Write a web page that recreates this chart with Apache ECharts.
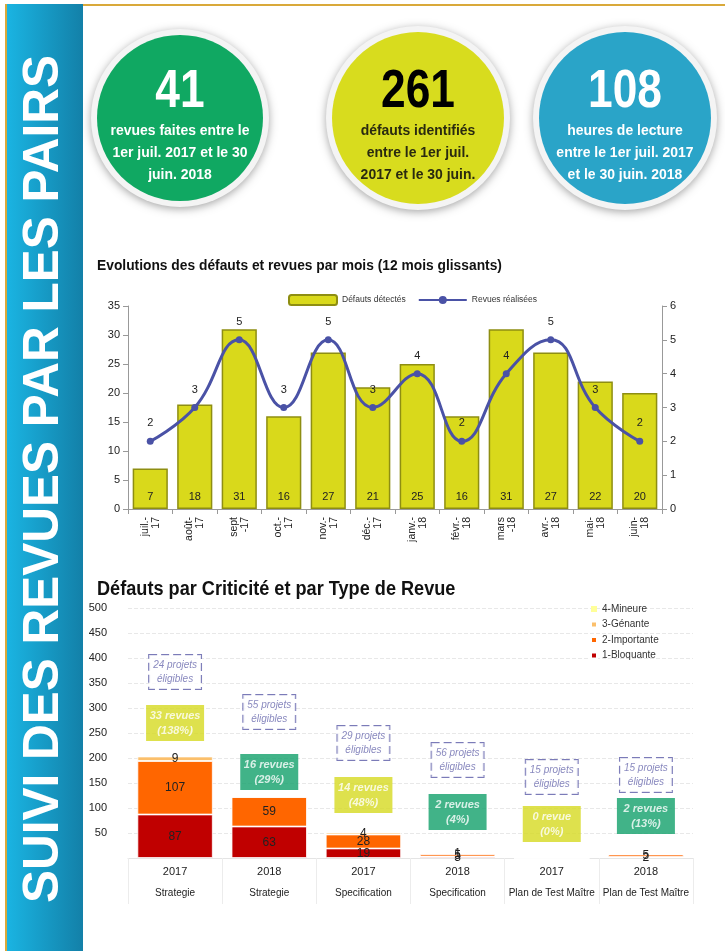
<!DOCTYPE html>
<html><head><meta charset="utf-8">
<script src="https://cdn.jsdelivr.net/npm/echarts@6/dist/echarts.min.js"></script>
<style>html,body{margin:0;padding:0;background:#fff}#c{width:725px;height:951px}</style>
</head><body><div id="c"></div>
<script>
// ---- Chart 1 data ----
const months = ['juil.-\n17','août-\n17','sept\n-17','oct.-\n17','nov.-\n17','déc.-\n17','janv.-\n18','févr.-\n18','mars\n-18','avr.-\n18','mai-\n18','juin-\n18'];
const defauts = [7,18,31,16,27,21,25,16,31,27,22,20];
const revues = [2,3,5,3,5,3,4,2,4,5,3,2];
// ---- Chart 2 data ----
const years = ['2017','2018','2017','2018','2017','2018'];
const types = ['Strategie','Strategie','Specification','Specification','Plan de Test Maître','Plan de Test Maître'];
const bloquante = [87,63,19,3,0,2];
const importante = [107,59,28,5,0,5];
const genante = [9,0,4,1,0,0];
const mineure = [0,0,0,0,0,0];
const projetsTxt = ['24 projets\néligibles','55 projets\néligibles','29 projets\néligibles','56 projets\néligibles','15 projets\néligibles','15 projets\néligibles'];
const projetsY = [372,292,230,196,162,166];
const revuesTxt = ['33 revues\n(138%)','16 revues\n(29%)','14 revues\n(48%)','2 revues\n(4%)','0 revue\n(0%)','2 revues\n(13%)'];
const revuesY = [270,172,126,92,68,84];
const revuesOk = [false,true,false,true,false,true];
// ---- KPI ----
const kpiNum = ['41','261','108'];
const kpiTxt = [['revues faites entre le','1er juil. 2017 et le 30','juin. 2018'],['défauts identifiés','entre le 1er juil.','2017 et le 30 juin.'],['heures de lecture','entre le 1er juil. 2017','et le 30 juin. 2018']];
const title1 = 'Evolutions des défauts et revues par mois (12 mois glissants)';
const title2 = 'Défauts par Criticité et par Type de Revue';
const bandTitle = 'SUIVI DES REVUES PAR LES PAIRS';

const SANS = '"Liberation Sans",Arial,sans-serif';

const chart = echarts.init(document.getElementById('c'), null, {renderer:'canvas'});

const circ = [
  {cx:180, cy:118, r:83, color:'#10a862', txt:'#fff', numColor:'#fff'},
  {cx:418, cy:118, r:86, color:'#d8dc1e', txt:'#2a2a10', numColor:'#000'},
  {cx:625, cy:118, r:86, color:'#2aa4c8', txt:'#fff', numColor:'#fff'}
];
const graphic = [];
graphic.push({type:'rect', shape:{x:5,y:4,width:2,height:947}, style:{fill:'#d9a93a'}, silent:true});
graphic.push({type:'rect', shape:{x:7,y:4,width:76,height:947}, style:{fill:new echarts.graphic.LinearGradient(0,0,1,0,[{offset:0,color:'#1ab4e2'},{offset:1,color:'#1380a8'}])}, silent:true});
graphic.push({type:'rect', shape:{x:83,y:4,width:642,height:2}, style:{fill:'#d9a93a'}, silent:true});
graphic.push({type:'text', x:44, y:479, rotation:Math.PI/2, style:{text:bandTitle, fill:'#fff', font:'bold 49.5px '+SANS, align:'center', verticalAlign:'middle'}, silent:true});
circ.forEach((c,i)=>{
  graphic.push({type:'circle', shape:{cx:c.cx, cy:c.cy, r:c.r+6}, style:{fill:'#f4f4f4', shadowBlur:8, shadowColor:'rgba(0,0,0,0.35)', shadowOffsetY:2}, silent:true});
  graphic.push({type:'circle', shape:{cx:c.cx, cy:c.cy, r:c.r}, style:{fill:c.color}, silent:true});
  graphic.push({type:'text', x:c.cx, y:92, scaleX:0.82, style:{text:kpiNum[i], fill:c.numColor, font:'bold 54px '+SANS, align:'center', verticalAlign:'middle'}, silent:true});
  kpiTxt[i].forEach((t,j)=>{
    graphic.push({type:'text', x:c.cx, y:131+j*22, scaleX:0.9, style:{text:t, fill:c.txt, font:'bold 15.5px '+SANS, align:'center', verticalAlign:'middle'}, silent:true});
  });
});
graphic.push({type:'text', x:97, y:266, scaleX:0.92, style:{text:title1, fill:'#111', font:'bold 15px '+SANS, align:'left', verticalAlign:'middle'}, silent:true});
graphic.push({type:'text', x:97, y:590, scaleX:0.93, style:{text:title2, fill:'#111', font:'bold 19.5px '+SANS, align:'left', verticalAlign:'middle'}, silent:true});

const segLabel = {show:true, position:'inside', color:'#222', fontSize:12, formatter:p=>p.value>0?p.value:''};

const option = {
  animation:false,
  backgroundColor:'#fff',
  textStyle:{fontFamily:SANS},
  graphic: graphic,
  legend:[
    {data:['Défauts détectés','Revues réalisées'], left:283, top:289, itemWidth:48, itemHeight:10, itemGap:12, textStyle:{fontSize:8.5, color:'#333'}},
    {data:['4-Mineure','3-Génante','2-Importante','1-Bloquante'], orient:'vertical', left:585, top:599, itemWidth:6, itemHeight:6, itemGap:5.5, icon:'rect', textStyle:{fontSize:10, color:'#333'}}
  ],
  grid:[
    {left:128, width:534, top:306, height:203},
    {left:128, width:565, top:608, height:250}
  ],
  xAxis:[
    {type:'category', gridIndex:0, data:months, axisLine:{lineStyle:{color:'#999'}}, axisTick:{show:true, length:5, lineStyle:{color:'#999'}},
     axisLabel:{rotate:90, fontSize:10.5, color:'#222', lineHeight:11, interval:0}},
    {type:'category', gridIndex:1, data:years.map((y,i)=>y+'\n'+types[i]), axisLine:{lineStyle:{color:'#e4e4e4'}}, axisTick:{show:true, length:46, lineStyle:{color:'#ececec'}},
     axisLabel:{fontSize:10.5, color:'#222', lineHeight:22, margin:3, interval:0,
       formatter:(v)=>{const p=v.split('\n'); return '{y|'+p[0]+'}\n{t|'+p[1]+'}';},
       rich:{y:{fontSize:11, color:'#222', lineHeight:22}, t:{fontSize:10, color:'#222', lineHeight:20}}}}
  ],
  yAxis:[
    {type:'value', gridIndex:0, min:0, max:35, interval:5, splitLine:{show:false}, axisLine:{show:true, lineStyle:{color:'#999'}}, axisTick:{show:true, lineStyle:{color:'#999'}}, axisLabel:{fontSize:11, color:'#222', margin:8}},
    {type:'value', gridIndex:0, min:0, max:6, interval:1, position:'right', splitLine:{show:false}, axisLine:{show:true, lineStyle:{color:'#999'}}, axisTick:{show:true, lineStyle:{color:'#999'}}, axisLabel:{fontSize:11, color:'#222', margin:8}},
    {type:'value', gridIndex:1, min:0, max:500, interval:50, splitLine:{show:true, lineStyle:{type:'dashed', color:'#e8e8e8'}}, axisLine:{show:false}, axisTick:{show:false}, axisLabel:{fontSize:11, color:'#222', margin:21, formatter:v=>v===0?'':v}}
  ],
  series:[
    {name:'Défauts détectés', type:'bar', xAxisIndex:0, yAxisIndex:0, data:defauts, barCategoryGap:'21%',
     itemStyle:{color:'#d9d91b', borderColor:'#8e8e12', borderWidth:1.5},
     label:{show:true, position:'insideBottom', distance:7, color:'#222', fontSize:11}},
    {name:'Revues réalisées', type:'line', xAxisIndex:0, yAxisIndex:1, data:revues, smooth:0.45, symbol:'circle', symbolSize:7,
     lineStyle:{color:'#4a52a6', width:3}, itemStyle:{color:'#4a52a6'},
     label:{show:true, position:'top', distance:9, color:'#222', fontSize:11}},
    {name:'1-Bloquante', type:'bar', stack:'c', xAxisIndex:1, yAxisIndex:2, data:bloquante, barWidth:'80%', itemStyle:{color:'#c00000', borderColor:'#fff', borderWidth:0.8}, label:segLabel},
    {name:'2-Importante', type:'bar', stack:'c', xAxisIndex:1, yAxisIndex:2, data:importante, itemStyle:{color:'#ff6600', borderColor:'#fff', borderWidth:0.8}, label:segLabel},
    {name:'3-Génante', type:'bar', stack:'c', xAxisIndex:1, yAxisIndex:2, data:genante, itemStyle:{color:'#fbbf6b', borderColor:'#fff', borderWidth:0.8}, label:segLabel},
    {name:'4-Mineure', type:'bar', stack:'c', xAxisIndex:1, yAxisIndex:2, data:mineure, itemStyle:{color:'#ffff99'}, label:segLabel},
    {name:'projets', type:'scatter', xAxisIndex:1, yAxisIndex:2, symbolSize:0, silent:true,
     data:projetsY.map((v,i)=>[i,v]),
     label:{show:true, position:'inside', formatter:p=>projetsTxt[p.dataIndex], color:'#6a6aae', fontSize:10, fontStyle:'italic', lineHeight:14,
       borderType:'dashed', borderColor:'#5a5aa6', borderWidth:1, padding:[3,4], backgroundColor:'#fff'}},
    {name:'revues', type:'scatter', xAxisIndex:1, yAxisIndex:2, symbolSize:0, silent:true,
     data:revuesY.map((v,i)=>({value:[i,v], label:{backgroundColor:revuesOk[i]?'#12a06a':'#d6d920'}})),
     label:{show:true, position:'inside', formatter:p=>revuesTxt[p.dataIndex], color:'#fff', fontSize:11, fontStyle:'italic', fontWeight:'bold', lineHeight:15,
       padding:[3,5], width:48, align:'center'}}
  ]
};
chart.setOption(option);
</script></body></html>
